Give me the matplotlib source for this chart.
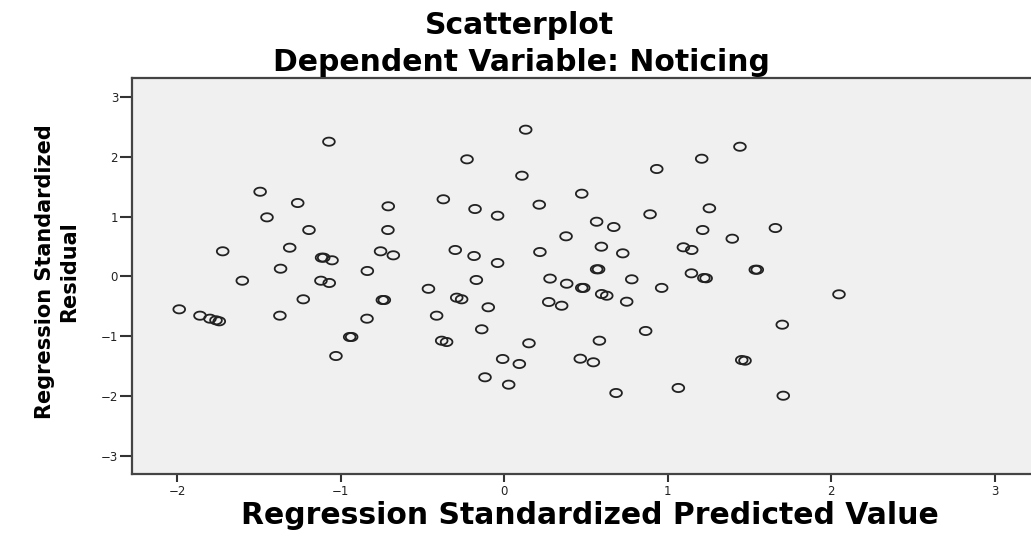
import numpy as np
import matplotlib
matplotlib.use('Agg')
import matplotlib.pyplot as plt
from matplotlib.path import Path

# standardized predicted values and standardized residuals
pred = [-1.073, -1.494, -1.264, -0.710, -1.452, -1.195, -0.712, -1.723, -1.313, -1.118,
        -1.105, -1.054, -0.757, -0.679, -1.369, -0.838, -1.603, -1.122, -1.071, 0.131,
        -0.228, 0.933, 1.208, 0.108, 0.474, -0.373, -0.179, -0.041, 0.214, 0.892,
        0.565, 0.670, 1.214, 1.255, 0.378, -0.300, -0.185, -0.041, 0.218, 0.594,
        0.725, 1.096, 1.147, 0.565, 0.577, -0.171, 0.280, 0.382, 0.474, 0.486,
        0.780, 0.963, 1.145, 1.221, 1.235, 1.442, 1.659, 1.395, 1.536, 1.548,
        -0.464, -1.230, -0.746, -0.734, -1.989, -1.862, -1.801, -1.764, -1.744, -1.373,
        -0.840, -0.946, -0.934, -1.030, -0.291, -0.261, -0.098, 0.272, 0.351, 0.596,
        0.627, 0.749, -0.414, -0.138, -0.383, -0.353, 0.151, 0.582, 0.865, -0.010,
        0.092, 0.465, 0.545, -0.118, 0.027, 0.684, 1.065, 2.048, 1.701, 1.453,
        1.473, 1.707]
resid = [2.247, 1.413, 1.225, 1.170, 0.986, 0.775, 0.775, 0.420, 0.480, 0.314,
         0.314, 0.270, 0.420, 0.353, 0.130, 0.092, -0.070, -0.070, -0.108, 2.447,
         1.953, 1.792, 1.963, 1.680, 1.380, 1.287, 1.125, 1.013, 1.197, 1.037,
         0.913, 0.825, 0.775, 1.137, 0.670, 0.442, 0.342, 0.225, 0.408, 0.497,
         0.386, 0.487, 0.442, 0.120, 0.120, -0.058, -0.035, -0.120, -0.190, -0.190,
         -0.047, -0.190, 0.053, -0.025, -0.030, 2.163, 0.808, 0.630, 0.113, 0.113,
         -0.205, -0.380, -0.392, -0.392, -0.547, -0.653, -0.703, -0.730, -0.747, -0.653,
         -0.703, -1.008, -1.008, -1.325, -0.353, -0.380, -0.513, -0.425, -0.487, -0.292,
         -0.320, -0.420, -0.653, -0.880, -1.070, -1.092, -1.113, -1.070, -0.908, -1.375,
         -1.458, -1.370, -1.430, -1.680, -1.803, -1.942, -1.858, -0.297, -0.803, -1.392,
         -1.403, -1.987]

xticks = [-2, -1, 0, 1, 2, 3]
yticks = [-3, -2, -1, 0, 1, 2, 3]

# slightly flattened circle marker
t = np.linspace(0, 2 * np.pi, 60)
ring = Path(np.column_stack([np.cos(t), 0.70 * np.sin(t)]), closed=True)

fig = plt.figure(figsize=(10.31, 5.34), dpi=100)
ax = fig.add_axes([132 / 1031, 60 / 534, 908 / 1031, 396.5 / 534])
ax.set_facecolor('#f0f0f0')

ax.scatter(pred, resid, s=71, marker=ring, facecolors='none',
           edgecolors='#222222', linewidths=1.3, zorder=3)

ax.set_xlim(-2.278, 3.278)
ax.set_ylim(-3.292, 3.317)
ax.set_xticks(xticks)
ax.set_yticks(yticks)
ax.set_xticklabels([str(v).replace('-', '\u2212') for v in xticks])
ax.set_yticklabels([str(v).replace('-', '\u2212') for v in yticks])

ax.tick_params(axis='x', length=6, width=1.5, color='#333333', pad=2,
               labelsize=8.5, labelcolor='#222222')
ax.tick_params(axis='y', length=9, width=1.5, color='#333333', pad=1,
               labelsize=8.5, labelcolor='#222222')
for side in ['left', 'bottom', 'top']:
    ax.spines[side].set_linewidth(1.6)
    ax.spines[side].set_color('#444444')
ax.spines['right'].set_visible(False)

fig.text(519 / 1031, 1 - 26 / 534, 'Scatterplot', ha='center', va='center',
         fontsize=21.5, fontweight='bold')
fig.text(521 / 1031, 1 - 62 / 534, 'Dependent Variable: Noticing', ha='center',
         va='center', fontsize=21.5, fontweight='bold')
fig.text(590 / 1031, 1 - 515 / 534, 'Regression Standardized Predicted Value',
         ha='center', va='center', fontsize=21.5, fontweight='bold')
fig.text(57 / 1031, 1 - 272 / 534, 'Regression Standardized\nResidual',
         ha='center', va='center', rotation=90, fontsize=15,
         fontweight='bold', linespacing=1.25, multialignment='center')

fig.savefig('out.png', dpi=100)
